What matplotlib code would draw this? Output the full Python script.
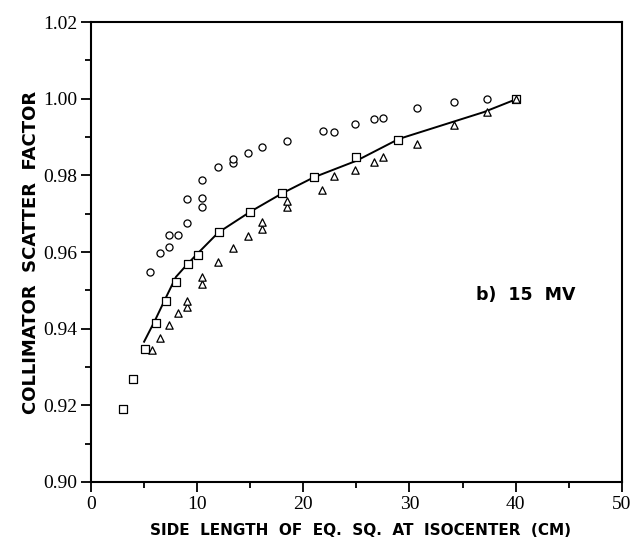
import numpy as np
import matplotlib
matplotlib.use("Agg")
import matplotlib.pyplot as plt
from matplotlib.ticker import MultipleLocator

# circles
circ_x = [5.6, 6.5, 7.3, 7.3, 8.2, 9.0, 9.0, 10.5, 10.5, 10.5, 12.0, 13.4, 13.4,
          14.8, 16.1, 18.5, 21.9, 22.9, 24.9, 26.7, 27.5, 30.7, 34.2, 37.3, 40.0]
circ_y = [0.9547, 0.9597, 0.9612, 0.9644, 0.9644, 0.9676, 0.9737, 0.9718, 0.9742,
          0.9788, 0.9823, 0.9833, 0.9842, 0.9857, 0.9875, 0.9890, 0.9915, 0.9914,
          0.9933, 0.9948, 0.9949, 0.9975, 0.9991, 1.0000, 0.9998]

# squares
sq_x = [3.0, 4.0, 5.1, 6.1, 7.1, 8.0, 9.1, 10.1, 12.1, 15.0, 18.0, 21.0, 25.0, 28.9, 40.0]
sq_y = [0.9190, 0.9269, 0.9346, 0.9416, 0.9473, 0.9522, 0.9569, 0.9593, 0.9651,
        0.9704, 0.9755, 0.9796, 0.9847, 0.9892, 0.9998]

# triangles
tri_x = [5.7, 6.5, 7.3, 8.2, 9.0, 9.0, 10.5, 10.5, 12.0, 13.4, 14.8, 16.1, 16.1,
         18.5, 18.5, 21.8, 22.9, 24.9, 26.7, 27.5, 30.7, 34.2, 37.3, 40.0]
tri_y = [0.9344, 0.9376, 0.9409, 0.9442, 0.9457, 0.9473, 0.9516, 0.9535, 0.9575,
         0.9610, 0.9642, 0.9659, 0.9677, 0.9718, 0.9733, 0.9762, 0.9799, 0.9814,
         0.9834, 0.9847, 0.9881, 0.9931, 0.9965, 0.9998]

# fitted curve
fit_x = [5.0, 6.0, 7.0, 8.0, 9.0, 10.0, 12.0, 15.0, 18.0, 21.0, 25.0, 29.0, 33.0, 37.0, 40.0]
fit_y = [0.9366, 0.9420, 0.9478, 0.9535, 0.9566, 0.9595, 0.9651, 0.9705, 0.9753,
         0.9795, 0.9838, 0.9895, 0.9930, 0.9965, 0.9998]

fig = plt.figure(figsize=(6.41, 5.45), dpi=100)
ax = fig.add_axes([0.142, 0.1156, 0.828, 0.844])

ax.plot(fit_x, fit_y, color="black", lw=1.4, zorder=2)
ax.scatter(circ_x, circ_y, marker="o", s=26, facecolors="white", edgecolors="black", linewidths=0.9, zorder=3)
ax.scatter(sq_x, sq_y, marker="s", s=34, facecolors="white", edgecolors="black", linewidths=0.9, zorder=3)
ax.scatter(tri_x, tri_y, marker="^", s=28, facecolors="white", edgecolors="black", linewidths=0.9, zorder=3)

ax.set_xlim(0, 50)
ax.set_ylim(0.90, 1.02)
ax.xaxis.set_major_locator(MultipleLocator(10))
ax.xaxis.set_minor_locator(MultipleLocator(5))
ax.yaxis.set_major_locator(MultipleLocator(0.02))
ax.yaxis.set_minor_locator(MultipleLocator(0.01))
ax.yaxis.set_major_formatter(plt.FuncFormatter(lambda v, p: f"{v:.2f}"))
ax.tick_params(which="major", direction="out", length=7, width=1.3, labelsize=14, pad=3)
ax.tick_params(which="minor", direction="out", length=4, width=1.3)
for lab in ax.get_xticklabels() + ax.get_yticklabels():
    lab.set_family("Liberation Serif")
for sp in ax.spines.values():
    sp.set_linewidth(1.5)

ax.set_xlabel("SIDE  LENGTH  OF  EQ.  SQ.  AT  ISOCENTER  (CM)", family="DejaVu Sans",
              fontweight="bold", fontsize=11, labelpad=7)
ax.xaxis.set_label_coords(0.507, -0.089)
ax.set_ylabel("COLLIMATOR  SCATTER  FACTOR", family="DejaVu Sans",
              fontweight="bold", fontsize=13, labelpad=2)
ax.text(36.3, 0.9488, "b)  15  MV", family="DejaVu Sans", fontweight="bold",
        fontsize=12.5, va="center", ha="left")

fig.savefig("out.png", dpi=100)
